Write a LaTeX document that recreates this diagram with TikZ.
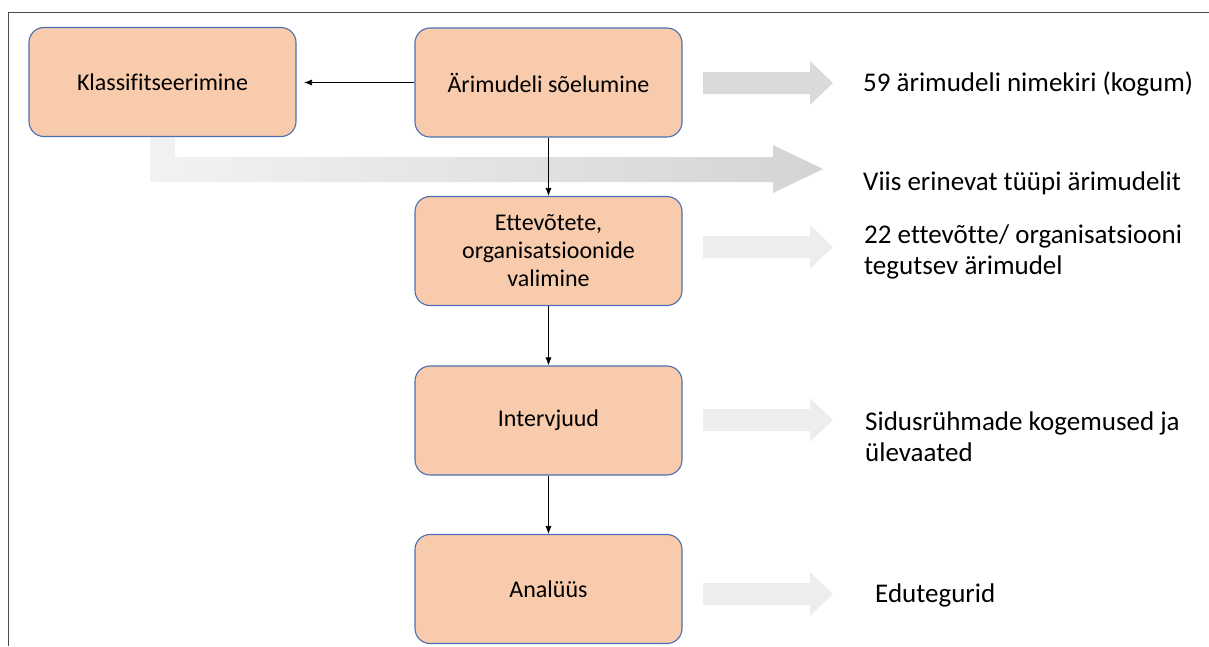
\documentclass[tikz,border=0pt]{standalone}
\usepackage{fontspec}
\setmainfont[Ligatures={NoCommon}]{Carlito}
\usetikzlibrary{arrows.meta}
\definecolor{boxfill}{HTML}{F8CBAD}
\definecolor{boxdraw}{HTML}{4A6FB0}
\definecolor{arrA}{HTML}{DADADA}
\definecolor{arrB}{HTML}{EDEDED}
\begin{document}
\begin{tikzpicture}[x=1pt,y=-1pt,
  stepbox/.style={draw=boxdraw,line width=1.1pt,fill=boxfill,rounded corners=15pt,
    minimum width=267pt,minimum height=109pt,align=center,
    font=\fontsize{24}{28}\selectfont,text=black,inner sep=0pt},
  outtext/.style={anchor=west,align=left,font=\fontsize{27}{31}\selectfont,inner sep=0pt},
  flow/.style={-{Latex[length=8pt,width=6pt]},line width=0.7pt,black},
  frameline/.style={draw=black!70,line width=1pt}]
\useasboundingbox (0,0) rectangle (1209,646);
% frame
\draw[frameline] (1209,12) -- (8,12) -- (8,646);
% big shaded L-arrow
\shade[left color=black!5,right color=black!17]
  (150,136) -- (175,136) -- (175,157) -- (773,157) -- (773,145) -- (823,169)
  -- (773,193) -- (773,182) -- (150,182) -- cycle;
% boxes
\node[stepbox] (klass) at (162.5,82) {Klassifitseerimine};
\node[stepbox] (soel) at (548.5,82.5) {Ärimudeli sõelumine};
\node[stepbox] (ettev) at (548.5,251) {Ettevõtete,\\organisatsioonide\\valimine};
\node[stepbox] (interv) at (548.5,420.5) {Intervjuud};
\node[stepbox] (anal) at (548.5,589) {Analüüs};
% connectors
\coordinate (kin) at (304,82.5);
\draw[flow] (soel.west) -- (kin);
\draw[flow] (soel.south) -- (ettev.north);
\draw[flow] (ettev.south) -- (interv.north);
\draw[flow] (interv.south) -- (anal.north);
% small gray arrows
\fill[arrA] (703,72) -- (810,72) -- (810,61) -- (833,83) -- (810,105) -- (810,94) -- (703,94) -- cycle;
\fill[arrB] (703,236) -- (810,236) -- (810,225) -- (833,247) -- (810,269) -- (810,258) -- (703,258) -- cycle;
\fill[arrB] (703,409) -- (810,409) -- (810,398) -- (833,420) -- (810,442) -- (810,431) -- (703,431) -- cycle;
\fill[arrB] (703,583) -- (810,583) -- (810,572) -- (833,594) -- (810,616) -- (810,605) -- (703,605) -- cycle;
% outputs
\node[outtext] (o1) at (863,84) {59 ärimudeli nimekiri (kogum)};
\node[outtext] (o2) at (863,183) {Viis erinevat tüüpi ärimudelit};
\node[outtext] (o3) at (864,252) {22 ettevõtte/ organisatsiooni\\tegutsev ärimudel};
\node[outtext] (o4) at (865,437) {Sidusrühmade kogemused ja\\ülevaated};
\node[outtext] (o5) at (875,595) {Edutegurid};
\end{tikzpicture}
\end{document}
